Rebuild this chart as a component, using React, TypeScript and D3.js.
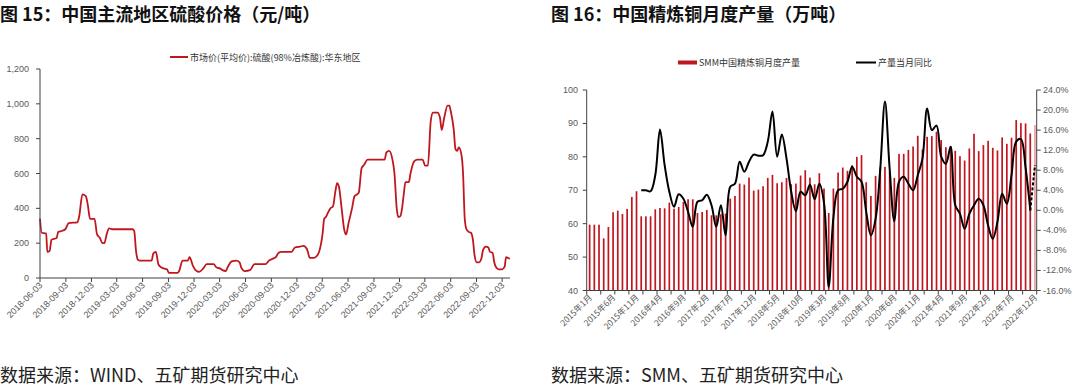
import * as d3 from "d3";

// ---- 图15 data: 硫酸(98%冶炼酸) 华东地区 市场价 (元/吨)
const priceDates = [
  "2018-06-03","2018-06-09","2018-06-25","2018-06-29","2018-07-07","2018-07-14","2018-08-01","2018-08-07","2018-08-19","2018-09-01","2018-09-13","2018-10-14","2018-10-20","2018-11-01","2018-11-13","2018-11-20","2018-11-28","2018-12-14","2018-12-23",
  "2019-01-02","2019-01-11","2019-01-18","2019-01-26","2019-02-04","2019-02-14","2019-04-28","2019-05-04","2019-05-11","2019-05-17","2019-05-23","2019-07-05","2019-07-11","2019-07-20","2019-07-29","2019-08-05","2019-08-17","2019-08-29","2019-09-04","2019-10-05","2019-10-11","2019-10-23","2019-11-11","2019-11-17","2019-11-29","2019-12-12","2019-12-21",
  "2020-01-05","2020-01-17","2020-02-11","2020-02-21","2020-03-04","2020-03-13","2020-03-25","2020-03-31","2020-04-15","2020-05-01","2020-05-13","2020-05-19","2020-06-01","2020-06-19","2020-07-05","2020-08-13","2020-08-26","2020-09-07","2020-09-19","2020-09-29","2020-10-08","2020-11-14","2020-11-26","2020-12-14","2020-12-26",
  "2021-01-08","2021-01-18","2021-02-01","2021-02-14","2021-02-26","2021-03-04","2021-03-10","2021-03-16","2021-03-22","2021-04-01","2021-04-10","2021-04-19","2021-04-25","2021-05-02","2021-05-11","2021-05-20","2021-05-27","2021-06-04","2021-06-17","2021-06-26","2021-07-05","2021-07-11","2021-07-21","2021-07-30","2021-08-11","2021-10-11","2021-10-17","2021-10-27","2021-11-09","2021-11-15","2021-11-23","2021-11-29","2021-12-06","2021-12-12","2021-12-18","2021-12-24",
  "2022-01-05","2022-01-11","2022-01-24","2022-02-05","2022-02-23","2022-03-04","2022-03-14","2022-03-24","2022-04-01","2022-04-17","2022-04-26","2022-05-02","2022-05-11","2022-05-23","2022-05-29","2022-06-03","2022-06-14","2022-06-20","2022-06-26","2022-07-02","2022-07-12","2022-07-17","2022-07-23","2022-07-29","2022-08-06","2022-08-14","2022-08-21","2022-08-27","2022-09-04","2022-09-12","2022-09-20","2022-09-26","2022-10-06","2022-10-15","2022-10-21","2022-10-30","2022-11-05","2022-11-12","2022-11-21","2022-12-03","2022-12-12","2022-12-17","2022-12-24","2022-12-30",
];
const priceValues = [
  340,260,255,150,155,220,230,265,270,280,315,320,350,480,470,420,340,340,250,
  230,200,200,250,285,280,280,270,150,105,100,100,140,150,80,65,55,50,30,30,40,100,100,120,70,40,35,
  55,80,80,60,55,45,40,60,95,100,90,60,40,45,80,80,100,110,120,145,150,150,175,180,185,
  165,115,115,130,190,250,340,350,370,400,410,500,545,520,400,280,250,310,400,470,480,490,630,650,680,680,720,730,670,600,400,350,355,400,480,550,
  550,600,670,680,680,645,645,900,950,950,920,850,920,990,990,960,850,740,730,750,700,600,340,280,265,260,220,130,90,90,110,160,180,175,150,145,90,60,50,50,65,120,115,110,
];
const priceTicks = [
  "2018-06-03","2018-09-03","2018-12-03","2019-03-03","2019-06-03","2019-09-03","2019-12-03",
  "2020-03-03","2020-06-03","2020-09-03","2020-12-03","2021-03-03","2021-06-03","2021-09-03",
  "2021-12-03","2022-03-03","2022-06-03","2022-09-03","2022-12-03",
];
const priceYTicks = [0, 200, 400, 600, 800, 1000, 1200];

// ---- 图16 data: SMM 中国精炼铜月度产量 (万吨) & 当月同比 (%)
const years = [2015, 2016, 2017, 2018, 2019, 2020, 2021, 2022];
const monthLabels: string[] = [];
years.forEach((yr) => { for (let m = 1; m <= 12; m++) monthLabels.push(`${yr}年${m}月`); });

const outputValues = [
  59.7, 59.7, 59.7, 55.6, 59.0, 63.4, 63.9, 62.9, 64.4, 68.0, 69.7, 62.2,
  62.2, 62.2, 64.3, 64.7, 64.6, 66.3, 64.5, 65.0, 66.5, 67.3, 67.3, 63.2,
  63.5, 64.1, 62.5, 62.5, 62.8, 63.0, 67.5, 68.3, 72.0, 71.7, 73.8, 69.9,
  70.2, 71.2, 73.7, 74.6, 72.1, 72.4, 73.7, 71.8, 72.0, 74.4, 76.0, 73.8,
  71.8, 75.1, 70.5, 63.2, 70.5, 75.3, 76.8, 75.8, 77.5, 80.0, 80.5, 72.4,
  68.3, 74.3, 76.8, 77.0, 75.5, 73.7, 80.9, 80.9, 82.1, 83.1, 86.3, 82.2,
  86.0, 86.2, 87.5, 85.0, 82.9, 83.2, 81.8, 80.2, 78.9, 82.5, 86.9, 81.7,
  83.5, 84.8, 82.7, 81.9, 85.8, 83.9, 85.7, 91.0, 90.1, 90.0, 87.0, 89.5,
];
// YoY starts at 2015年12月
const yoyStart = 11;
const yoyValues = [
  4.0, 4.0, 3.8, 7.0, 16.1, 9.0, 3.7, 0.7, 3.2, 2.3, -0.3, -3.3, 1.7,
  2.0, 3.1, 1.0, -3.3, 1.0, -5.0, 4.7, 5.3, 9.7, 7.7, 9.7, 11.1,
  10.9, 11.0, 13.7, 19.7, 10.7, 15.1, 10.3, 3.7, -0.2, 3.7, 3.0, 5.1,
  2.2, 5.3, 1.5, -15.3, -1.5, 4.0, 4.3, 5.7, 8.7, 6.7, 5.7, -0.3,
  -5.0, -1.7, 8.3, 21.7, 8.3, -2.2, 5.7, 6.7, 5.3, 4.0, 7.0, 10.3,
  20.3, 16.0, 16.9, 10.7, 9.3, 12.7, 1.0, -0.7, -3.7, -0.7, 1.0, 2.3,
  1.0, -3.0, -5.7, -2.3, 3.3, 1.3, 7.0, 13.7, 14.2, 8.5, 0.0,
];
const yoyForecast = 9.0; // 2022年12月 (dashed)
const outTicks = [40, 50, 60, 70, 80, 90, 100];
const yoyTicks = [-16, -12, -8, -4, 0, 4, 8, 12, 16, 20, 24];

const tickFont = "'Liberation Sans', 'Noto Sans CJK SC', sans-serif";
const cjkFont = "'Noto Sans CJK SC', sans-serif";
const tickColor = "#595959";
const axisColor = "#404040";
const red = "#c0161e";

export default function App() {
  const parse = d3.timeParse("%Y-%m-%d");

  // left chart
  const xL = d3.scaleTime()
    .domain([parse("2018-06-03")!, parse("2022-12-31")!])
    .range([40, 510]);
  const yL = d3.scaleLinear().domain([0, 1200]).range([278, 69]);
  const priceData = priceDates.map((d, i) => ({ date: parse(d)!, value: priceValues[i] }));
  const priceLine = d3.line<{ date: Date; value: number }>()
    .x((d) => xL(d.date))
    .y((d) => yL(d.value))
    .curve(d3.curveMonotoneX);

  // right chart
  const xR = d3.scaleBand().domain(monthLabels).range([586.7, 1036.7]);
  const bw = xR.bandwidth();
  const cx = (i: number) => xR(monthLabels[i])! + bw / 2 + 0.6;
  const yOut = d3.scaleLinear().domain([40, 100]).range([290.5, 90]);
  const yYoy = d3.scaleLinear().domain([-16, 24]).range([290.5, 90]);
  const yoyData = yoyValues.map((v, i) => ({ i: i + yoyStart, v }));
  const yoyLine = d3.line<{ i: number; v: number }>()
    .x((d) => cx(d.i))
    .y((d) => yYoy(d.v))
    .curve(d3.curveCatmullRom.alpha(0.5));
  const lastIdx = yoyStart + yoyValues.length - 1;
  const xTickIdx = d3.range(0, 97, 3);
  const labelIdx = d3.range(0, 96, 5);

  return (
    <svg width={1080} height={391} style={{ position: "absolute", left: 0, top: 0, background: "#fff" }}>
      {/* titles */}
      <text x={0} y={21} fontFamily={cjkFont} fontWeight={700} fontSize={18} fill="#111">图 15：中国主流地区硫酸价格（元/吨）</text>
      <text x={551} y={21} fontFamily={cjkFont} fontWeight={700} fontSize={18} fill="#111">图 16：中国精炼铜月度产量（万吨）</text>

      {/* ---------- left chart ---------- */}
      <line x1={170} x2={188} y1={57} y2={57} stroke={red} strokeWidth={2} />
      <text x={190} y={60.5} fontFamily={cjkFont} fontSize={9} fill="#333">市场价(平均价):硫酸(98%冶炼酸):华东地区</text>

      <path d={priceLine(priceData)!} fill="none" stroke={red} strokeWidth={1.8} />

      <line x1={40} x2={40} y1={69} y2={278} stroke={axisColor} />
      <line x1={40} x2={510} y1={278} y2={278} stroke={axisColor} />
      {priceYTicks.map((t) => (
        <g key={t}>
          <line x1={36} x2={40} y1={yL(t)} y2={yL(t)} stroke={axisColor} />
          <text x={29} y={yL(t) + 3} textAnchor="end" fontFamily={tickFont} fontSize={9} fill={tickColor}>
            {d3.format(",")(t)}
          </text>
        </g>
      ))}
      {priceTicks.map((t) => {
        const x = xL(parse(t)!);
        return (
          <g key={t}>
            <line x1={x} x2={x} y1={278} y2={282} stroke={axisColor} />
            <text transform={`translate(${x + 3},${286}) rotate(-45)`} textAnchor="end"
              fontFamily={tickFont} fontSize={9} fill={tickColor}>{t}</text>
          </g>
        );
      })}

      {/* ---------- right chart ---------- */}
      <rect x={678} y={60.5} width={19} height={4} fill={red} />
      <text x={699} y={65.5} fontFamily={cjkFont} fontSize={9} fill="#333">SMM中国精炼铜月度产量</text>
      <line x1={856} x2={876} y1={62.5} y2={62.5} stroke="#000" strokeWidth={2} />
      <text x={878} y={65.5} fontFamily={cjkFont} fontSize={9} fill="#333">产量当月同比</text>

      {outputValues.map((v, i) => (
        <rect key={i} x={cx(i) - 0.85} width={1.7} y={yOut(v)} height={yOut(40) - yOut(v)}
          fill={i === outputValues.length - 1 ? "#e8a2a4" : red} />
      ))}

      <path d={yoyLine(yoyData)!} fill="none" stroke="#000" strokeWidth={2} />
      <line x1={cx(lastIdx)} y1={yYoy(yoyValues[yoyValues.length - 1])} x2={cx(95)} y2={yYoy(yoyForecast)}
        stroke="#000" strokeWidth={2} strokeDasharray="3,2" />

      <line x1={586.7} x2={586.7} y1={90} y2={290.5} stroke={axisColor} />
      <line x1={1036.7} x2={1036.7} y1={90} y2={290.5} stroke={axisColor} />
      <line x1={586.7} x2={1036.7} y1={290.5} y2={290.5} stroke={axisColor} />
      {outTicks.map((t) => (
        <g key={t}>
          <line x1={582.7} x2={586.7} y1={yOut(t)} y2={yOut(t)} stroke={axisColor} />
          <text x={578} y={yOut(t) + 3} textAnchor="end" fontFamily={tickFont} fontSize={9} fill={tickColor}>{t}</text>
        </g>
      ))}
      {yoyTicks.map((t) => (
        <g key={t}>
          <line x1={1036.7} x2={1040.7} y1={yYoy(t)} y2={yYoy(t)} stroke={axisColor} />
          <text x={1043} y={yYoy(t) + 3} fontFamily={tickFont} fontSize={9} fill={tickColor}>{t.toFixed(1)}%</text>
        </g>
      ))}
      {xTickIdx.map((i) => {
        const x = 586.7 + i * bw;
        return <line key={i} x1={x} x2={x} y1={290.5} y2={294.5} stroke={axisColor} />;
      })}
      {labelIdx.map((i) => (
        <text key={i} transform={`translate(${cx(i) + 3},${298}) rotate(-45)`} textAnchor="end"
          fontFamily={cjkFont} fontSize={8.5} fill={tickColor}>{monthLabels[i]}</text>
      ))}

      {/* sources */}
      <text x={0} y={382} fontFamily={cjkFont} fontSize={18} fill="#222">数据来源：WIND、五矿期货研究中心</text>
      <text x={551} y={382} fontFamily={cjkFont} fontSize={18} fill="#222">数据来源：SMM、五矿期货研究中心</text>
    </svg>
  );
}
